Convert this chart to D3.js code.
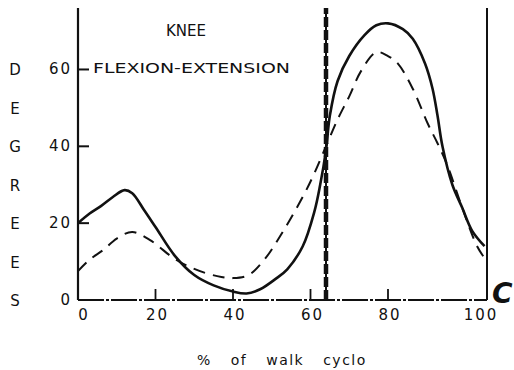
<!DOCTYPE html>
<html>
<head>
<meta charset="utf-8">
<script src="https://cdn.jsdelivr.net/npm/d3@7"></script>
<style>
  body { margin: 0; background: #fff; }
  svg { display: block; }
  text { font-family: "DejaVu Sans", sans-serif; fill: #111; }
</style>
</head>
<body>
<svg id="chart" width="514" height="370"></svg>
<script>
// % of walk cycle vs knee angle (degrees)
const solidPct = [0, 3, 6, 9, 12, 14, 17, 20, 25, 30, 35, 40, 43.5, 47, 51, 54, 58, 61, 62.5, 64, 65, 67, 70, 74, 77, 80, 83, 85, 87.5, 89, 90, 91, 93, 95, 97, 99.5];
const solidDeg = [20, 22.5, 24.5, 26.8, 28.6, 27.8, 23.5, 19, 11.5, 6.5, 3.8, 2.2, 1.7, 2.8, 5.5, 8, 14, 23, 30, 39, 48, 57, 63.5, 69, 71.5, 72, 70.5, 68, 61.5, 55, 48, 40, 30, 24, 18, 14];

const dashPct = [0, 3, 6.5, 10, 14, 18.6, 24.5, 28, 33, 37, 40, 44, 48, 53, 58.6, 61, 64, 67, 70, 73, 77, 80, 82, 85, 88, 90, 92, 95, 98, 100];
const dashDeg = [7.5, 10.5, 13, 16, 17.7, 15.6, 11, 9, 7, 6, 5.7, 6.5, 10.4, 18, 28, 33, 40, 47, 53, 59.5, 64.5, 63.5, 61.5, 55, 46, 40.8, 35, 24, 14, 10];

const xTicks = [0, 20, 40, 60, 80, 100];
const yTicks = [0, 20, 40, 60];
const yLetters = ["D", "E", "G", "R", "E", "E", "S"];
const toeOff = 64;

const svg = d3.select("#chart");

// the hand drawn axis is a bit stretched between 80 and 100
const x = d3.scaleLinear().domain([0, 80, 100]).range([78, 388, 487]);
const y = d3.scaleLinear().domain([0, 76]).range([300, 8]);

// frame: left axis, right border, baseline
svg.append("line")
    .attr("x1", x(0)).attr("x2", x(0))
    .attr("y1", y(0)).attr("y2", y(76))
    .attr("stroke", "#111").attr("stroke-width", 2.2);

svg.append("line")
    .attr("x1", x(100)).attr("x2", x(100))
    .attr("y1", y(0)).attr("y2", y(76))
    .attr("stroke", "#111").attr("stroke-width", 2);

svg.append("line")
    .attr("x1", x(0)).attr("x2", x(100))
    .attr("y1", y(0)).attr("y2", y(0))
    .attr("stroke", "#111").attr("stroke-width", 2)
    .attr("stroke-dasharray", "26,2,3,2");

// y ticks point inward
svg.selectAll(".ytick")
    .data(yTicks.filter(d => d > 0))
    .enter().append("line")
    .attr("x1", x(0)).attr("x2", x(0) + 11)
    .attr("y1", d => y(d)).attr("y2", d => y(d))
    .attr("stroke", "#111").attr("stroke-width", 2);

svg.selectAll(".ylabel")
    .data(yTicks)
    .enter().append("text")
    .attr("x", x(0) - 6)
    .attr("y", d => y(d) + 5)
    .attr("text-anchor", "end")
    .attr("font-size", "15px")
    .attr("letter-spacing", "2px")
    .text(d => d);

// x ticks point up from the baseline
svg.selectAll(".xtick")
    .data(xTicks.filter(d => d > 0 && d < 100))
    .enter().append("line")
    .attr("x1", d => x(d)).attr("x2", d => x(d))
    .attr("y1", y(0)).attr("y2", y(0) - 11)
    .attr("stroke", "#111").attr("stroke-width", 1.8);

svg.selectAll(".xlabel")
    .data(xTicks)
    .enter().append("text")
    .attr("x", d => d === 0 ? x(d) + 6 : d === 100 ? x(d) - 6 : x(d) + 2)
    .attr("y", y(0) + 20)
    .attr("text-anchor", "middle")
    .attr("font-size", "15px")
    .attr("letter-spacing", "2px")
    .text(d => d);

// vertical DEGREES, one letter per 10 degrees
svg.selectAll(".yletter")
    .data(yLetters)
    .enter().append("text")
    .attr("x", 15)
    .attr("y", (d, i) => y(60 - i * 10) + 6)
    .attr("text-anchor", "middle")
    .attr("font-size", "15px")
    .text(d => d);

// toe-off line
svg.append("line")
    .attr("x1", x(toeOff)).attr("x2", x(toeOff))
    .attr("y1", y(0)).attr("y2", y(76))
    .attr("stroke", "#111").attr("stroke-width", 2);
svg.append("line")
    .attr("x1", x(toeOff)).attr("x2", x(toeOff))
    .attr("y1", y(0)).attr("y2", y(76))
    .attr("stroke", "#111").attr("stroke-width", 4.5)
    .attr("stroke-dasharray", "10,3");

const line = d3.line()
    .x(d => x(d[0]))
    .y(d => y(d[1]))
    .curve(d3.curveCatmullRom.alpha(0.5));

svg.append("path")
    .datum(dashPct.map((p, i) => [p, dashDeg[i]]))
    .attr("d", line)
    .attr("fill", "none")
    .attr("stroke", "#111")
    .attr("stroke-width", 2)
    .attr("stroke-dasharray", "12,8");

svg.append("path")
    .datum(solidPct.map((p, i) => [p, solidDeg[i]]))
    .attr("d", line)
    .attr("fill", "none")
    .attr("stroke", "#111")
    .attr("stroke-width", 2.6);

// titles
svg.append("text")
    .attr("x", 166).attr("y", 36)
    .attr("font-size", "16px")
    .attr("textLength", 40)
    .attr("lengthAdjust", "spacingAndGlyphs")
    .text("KNEE");

svg.append("text")
    .attr("x", 93).attr("y", y(60) + 4)
    .attr("font-size", "14.5px")
    .attr("textLength", 197)
    .attr("lengthAdjust", "spacingAndGlyphs")
    .text("FLEXION-EXTENSION");

svg.append("text")
    .attr("x", 197).attr("y", 365)
    .attr("font-size", "14px")
    .attr("letter-spacing", "1.5px")
    .attr("word-spacing", "13px")
    .text("% of walk cyclo");

svg.append("text")
    .attr("x", 492).attr("y", 303)
    .attr("font-family", "Liberation Sans, sans-serif")
    .attr("font-size", "28px")
    .attr("font-weight", "bold")
    .attr("font-style", "italic")
    .text("C");
</script>
</body>
</html>
